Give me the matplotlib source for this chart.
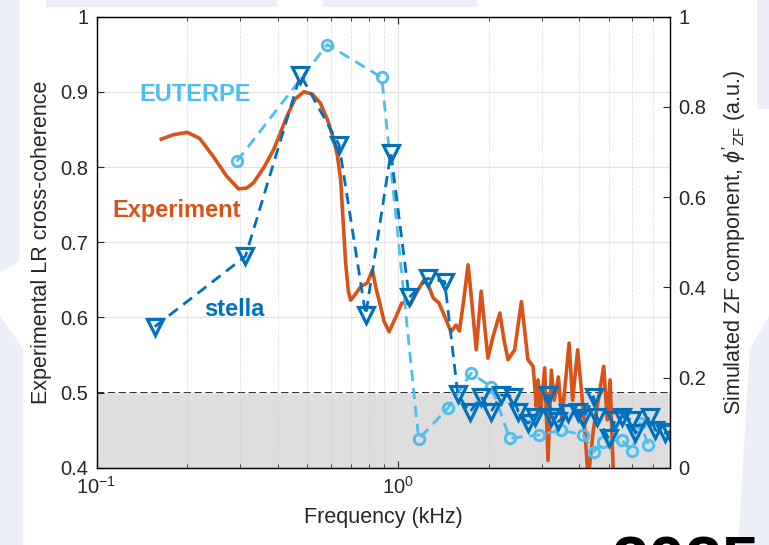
import matplotlib
matplotlib.use('Agg')
import matplotlib.pyplot as plt
from matplotlib.patches import Polygon
from matplotlib.ticker import LogLocator, NullFormatter

plt.rcParams['font.family'] = ['Liberation Sans', 'DejaVu Sans']
plt.rcParams['mathtext.fontset'] = 'custom'
plt.rcParams['mathtext.rm'] = 'Liberation Sans'
plt.rcParams['mathtext.it'] = 'Liberation Sans:italic'

# measured LR cross-coherence (left axis)
exp_f = [0.164, 0.18, 0.20, 0.22, 0.244, 0.27, 0.296, 0.315, 0.332, 0.36,
         0.387, 0.41, 0.428, 0.455, 0.487, 0.52, 0.553, 0.585, 0.613, 0.63,
         0.646, 0.66, 0.671, 0.685, 0.697, 0.72, 0.753, 0.792, 0.823, 0.845,
         0.866, 0.90, 0.935, 0.965, 0.998, 1.03, 1.06, 1.10, 1.16, 1.22,
         1.27, 1.31, 1.37, 1.445, 1.50, 1.56, 1.60, 1.65, 1.71, 1.76,
         1.82, 1.89, 1.99, 2.07, 2.18, 2.25, 2.32, 2.44, 2.57, 2.64,
         2.70, 2.81, 2.85, 2.88, 2.92, 2.97, 3.07, 3.15, 3.23, 3.30,
         3.41, 3.50, 3.70, 3.80, 3.95, 4.15, 4.28, 4.45, 4.82, 4.95,
         5.06, 5.2]
exp_c = [0.837, 0.843, 0.846, 0.838, 0.814, 0.788, 0.771, 0.772, 0.779, 0.800,
         0.823, 0.848, 0.867, 0.890, 0.900, 0.897, 0.885, 0.862, 0.836, 0.815,
         0.783, 0.720, 0.672, 0.635, 0.623, 0.630, 0.641, 0.646, 0.663, 0.640,
         0.623, 0.595, 0.581, 0.593, 0.606, 0.619, 0.620, 0.617, 0.635, 0.650,
         0.640, 0.626, 0.619, 0.597, 0.581, 0.590, 0.582, 0.620, 0.670, 0.620,
         0.557, 0.635, 0.546, 0.575, 0.606, 0.570, 0.544, 0.557, 0.621, 0.580,
         0.544, 0.535, 0.505, 0.482, 0.517, 0.470, 0.533, 0.410, 0.530, 0.490,
         0.521, 0.464, 0.566, 0.490, 0.557, 0.464, 0.385, 0.450, 0.535, 0.464,
         0.517, 0.380]

# simulated ZF component (right axis)
eut_f = [0.292, 0.583, 0.884, 1.172, 1.464, 1.75, 2.04, 2.35, 2.93, 3.49,
         4.12, 4.46, 4.81, 5.53, 5.98, 6.36, 6.78]
eut_z = [0.679, 0.938, 0.865, 0.064, 0.132, 0.210, 0.180, 0.066, 0.073, 0.084,
         0.073, 0.036, 0.058, 0.062, 0.038, 0.100, 0.051]

stl_f = [0.156, 0.312, 0.475, 0.638, 0.782, 0.948, 1.09, 1.256, 1.43, 1.58,
         1.73, 1.89, 2.04, 2.20, 2.41, 2.51, 2.70, 2.85, 3.15, 3.23,
         3.41, 3.68, 3.97, 4.13, 4.46, 4.57, 5.0, 5.26, 5.53, 5.98,
         6.13, 6.88, 7.15, 7.72, 7.98]
stl_z = [0.313, 0.469, 0.871, 0.716, 0.339, 0.698, 0.378, 0.420, 0.413, 0.164,
         0.123, 0.158, 0.125, 0.162, 0.158, 0.125, 0.099, 0.114, 0.162, 0.114,
         0.103, 0.121, 0.125, 0.110, 0.158, 0.114, 0.066, 0.106, 0.114, 0.106,
         0.077, 0.114, 0.084, 0.077, 0.080]

threshold = 0.5
left_ticks = [0.4, 0.5, 0.6, 0.7, 0.8, 0.9, 1.0]
left_labels = ['0.4', '0.5', '0.6', '0.7', '0.8', '0.9', '1']
right_ticks = [0, 0.2, 0.4, 0.6, 0.8, 1.0]
right_labels = ['0', '0.2', '0.4', '0.6', '0.8', '1']

c_exp = '#D95319'
c_eut = '#4DBEEE'
c_stl = '#0072BD'

fig = plt.figure(figsize=(7.69, 5.45), dpi=100)

# pale slide decoration behind the plot
bg = '#EDEFF8'
for pts in [[(0, 1), (0.025, 1), (0.025, 0.52), (0, 0.5)],
            [(0, 0.42), (0.03, 0.36), (0.03, 0.0), (0, 0.0)],
            [(0.984, 1), (1, 1), (1, 0.8), (0.984, 0.8)],
            [(1, 0.42), (0.975, 0.36), (0.96, 0.0), (1, 0.0)],
            [(0.06, 1), (0.36, 1), (0.36, 0.988), (0.06, 0.988)],
            [(0.42, 1), (0.62, 1), (0.62, 0.988), (0.42, 0.988)]]:
    fig.patches.append(Polygon(pts, closed=True, transform=fig.transFigure,
                               facecolor=bg, edgecolor='none', zorder=-1))

ax = fig.add_axes([0.1255, 0.1413, 0.7458, 0.8284])
ax.patch.set_facecolor('white')
ax.set_xscale('log')
ax.set_xlim(0.1, 8)
ax.set_ylim(0.4, 1.0)

ax.axhspan(0.4, threshold, color='#DEDEDE', lw=0, zorder=0.8)
ax.axhline(threshold, color='k', ls='--', lw=1.3, dashes=(4, 2), zorder=1.2)
ax.plot(exp_f, exp_c, color=c_exp, lw=2.6, solid_joinstyle='round', zorder=2)

ax.set_yticks(left_ticks)
ax.set_yticklabels(left_labels)
ax.xaxis.set_major_locator(LogLocator(base=10))
ax.xaxis.set_minor_locator(LogLocator(base=10, subs=range(2, 10)))
ax.xaxis.set_minor_formatter(NullFormatter())
ax.grid(which='major', color='#E3E3E3', lw=0.9)
ax.grid(which='minor', axis='x', color='#CFCFCF', lw=0.7, ls=':')
ax.tick_params(which='both', direction='in', top=True, right=True,
               labelsize=14.5, colors='#262626', pad=6)
ax.tick_params(which='major', length=5)
ax.tick_params(which='minor', length=3)
for s in ax.spines.values():
    s.set_color('#262626')
    s.set_linewidth(1.0)

ax.set_xlabel('Frequency (kHz)', fontsize=15.5, color='#262626', labelpad=6)
ax.set_ylabel('Experimental LR cross-coherence', fontsize=15.5, color='#262626', labelpad=6)

ax2 = ax.twinx()
ax2.set_ylim(0, 1)
ax2.plot(eut_f, eut_z, color=c_eut, ls='--', dashes=(4, 2.5), lw=2.0,
         marker='o', ms=7.5, mfc='none', mew=2.1)
ax2.plot(stl_f, stl_z, color=c_stl, ls='--', dashes=(4, 2.5), lw=2.0,
         marker='v', ms=11, mfc='none', mew=2.3)
ax2.set_yticks(right_ticks)
ax2.set_yticklabels(right_labels)
ax2.tick_params(direction='in', length=5, labelsize=14.5, colors='#262626', pad=6)
ax2.set_ylabel(r"Simulated ZF component, $\phi'_{\rm ZF}$ (a.u.)", fontsize=15.5,
               color='#262626', labelpad=10)

ax2.text(0.212, 0.827, 'EUTERPE', color=c_eut, fontsize=17, fontweight='bold',
         ha='center', va='center')
ax2.text(0.185, 0.57, 'Experiment', color=c_exp, fontsize=17, fontweight='bold',
         ha='center', va='center')
ax2.text(0.286, 0.35, 'stella', color=c_stl, fontsize=17, fontweight='bold',
         ha='center', va='center')

fig.text(0.796, -0.07, '2025', fontsize=48, fontweight='bold', color='k',
         ha='left', va='baseline')

fig.savefig('out.png', dpi=100)
